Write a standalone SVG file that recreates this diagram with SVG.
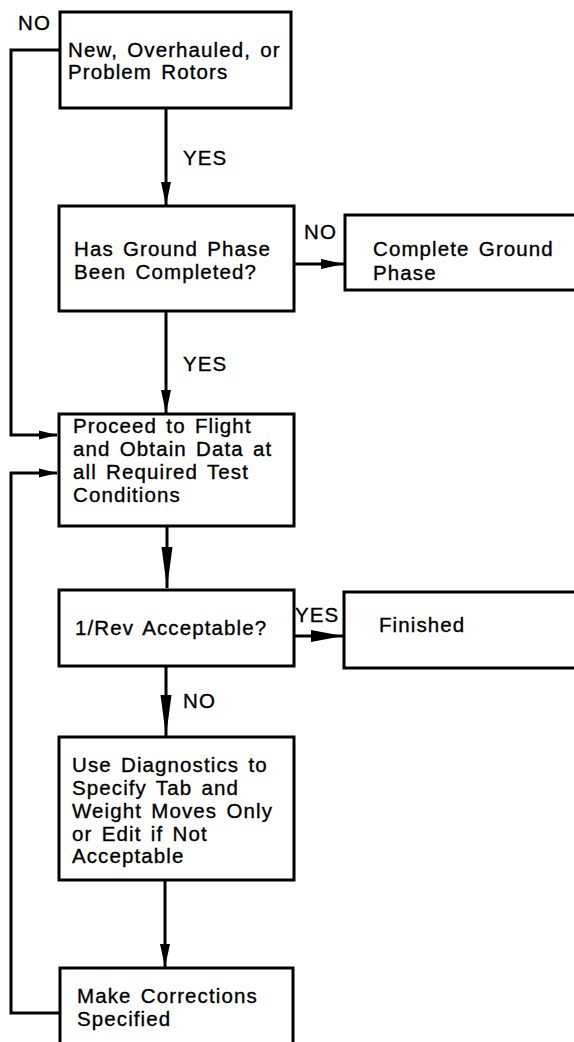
<svg xmlns="http://www.w3.org/2000/svg" width="574" height="1042" viewBox="0 0 574 1042">
<style>
.box{fill:#fff;stroke:#000;stroke-width:3}
.t{font-family:"Liberation Sans",Arial,sans-serif;font-size:20.5px;letter-spacing:1.1px;word-spacing:2.5px;fill:#000;stroke:#000;stroke-width:0.35}
.c{fill:none;stroke:#000;stroke-width:3}
</style>
<defs>
<marker id="ah" markerUnits="userSpaceOnUse" markerWidth="24" markerHeight="10" refX="23" refY="5" orient="auto"><path d="M0,0 L23,5 L0,10 z" fill="#000"/></marker>
<marker id="ahs" markerUnits="userSpaceOnUse" markerWidth="19" markerHeight="10" refX="18" refY="5" orient="auto"><path d="M0,0.5 L18,5 L0,9.5 z" fill="#000"/></marker>
<marker id="ahl" markerUnits="userSpaceOnUse" markerWidth="42" markerHeight="12" refX="41" refY="6" orient="auto"><path d="M0,0.5 L41,6 L0,11.5 z" fill="#000"/></marker>
<marker id="ahm" markerUnits="userSpaceOnUse" markerWidth="33" markerHeight="12" refX="32" refY="6" orient="auto"><path d="M0,0 L32,6 L0,12 z" fill="#000"/></marker>
</defs>
<rect width="574" height="1042" fill="#fff"/>
<g id="connectors">
<path class="c" d="M166,108 V205" marker-end="url(#ah)"/>
<path class="c" d="M294,264 H344" marker-end="url(#ah)"/>
<path class="c" d="M166,311 V413" marker-end="url(#ah)"/>
<path class="c" d="M60,50 H11 V435 H57" marker-end="url(#ahs)"/>
<path class="c" d="M60,1013 H11 V473 H57" marker-end="url(#ahs)"/>
<path class="c" d="M167,526 V588" marker-end="url(#ahl)"/>
<path class="c" d="M294,636 H343" marker-end="url(#ahm)"/>
<path class="c" d="M166,666 V736" marker-end="url(#ahl)"/>
<path class="c" d="M165,880 V967" marker-end="url(#ah)"/>
<text class="t" x="18" y="30">NO</text>
<text class="t" x="183" y="165">YES</text>
<text class="t" x="304" y="239">NO</text>
<text class="t" x="183" y="371">YES</text>
<text class="t" x="295" y="622">YES</text>
<text class="t" x="183" y="708">NO</text>
</g>
<g id="n1"><rect class="box" x="60" y="12" width="231" height="96"/>
<text class="t" x="68" y="57">New, Overhauled, or</text><text class="t" x="68" y="79">Problem Rotors</text></g>
<g id="n2"><rect class="box" x="59" y="206" width="235" height="105"/>
<text class="t" x="74" y="256">Has Ground Phase</text><text class="t" x="74" y="279">Been Completed?</text></g>
<g id="n3"><rect class="box" x="345" y="215" width="240" height="75"/>
<text class="t" x="373" y="256">Complete Ground</text><text class="t" x="373" y="280">Phase</text></g>
<g id="n4"><rect class="box" x="59" y="414" width="235" height="112"/>
<text class="t" x="73" y="433">Proceed to Flight</text><text class="t" x="73" y="456">and Obtain Data at</text><text class="t" x="73" y="479">all Required Test</text><text class="t" x="73" y="502">Conditions</text></g>
<g id="n5"><rect class="box" x="59" y="590" width="235" height="76"/>
<text class="t" x="75" y="635">1/Rev Acceptable?</text></g>
<g id="n6"><rect class="box" x="344" y="592" width="240" height="76"/>
<text class="t" x="379" y="632">Finished</text></g>
<g id="n7"><rect class="box" x="59" y="737" width="235" height="143"/>
<text class="t" x="72" y="772">Use Diagnostics to</text><text class="t" x="72" y="795">Specify Tab and</text><text class="t" x="72" y="818">Weight Moves Only</text><text class="t" x="72" y="841">or Edit if Not</text><text class="t" x="72" y="863">Acceptable</text></g>
<g id="n8"><rect class="box" x="60" y="968" width="233" height="90"/>
<text class="t" x="77" y="1003">Make Corrections</text><text class="t" x="77" y="1026">Specified</text></g>
</svg>
